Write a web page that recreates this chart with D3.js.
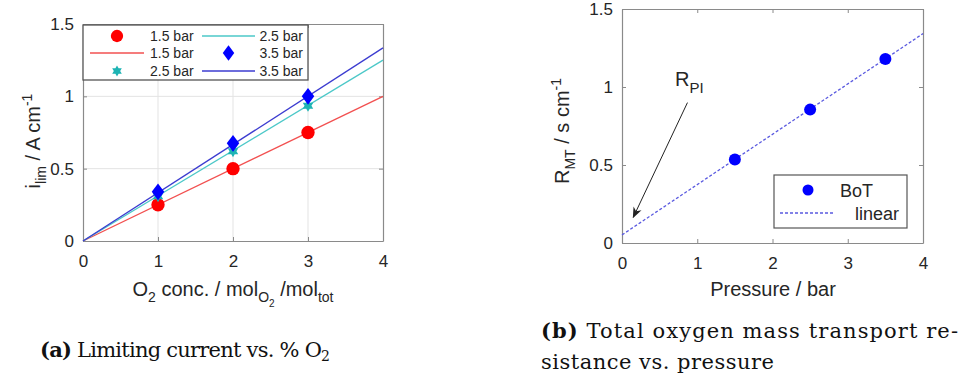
<!DOCTYPE html>
<html>
<head>
<meta charset="utf-8">
<script src="https://cdn.jsdelivr.net/npm/d3@7"></script>
<style>
  body { margin: 0; background: #fff; }
  svg { display: block; }
  .tick text { font-family: "Liberation Sans", Arial, sans-serif; font-size: 17px; fill: #262626; }
  .ttl { font-family: "Liberation Sans", Arial, sans-serif; font-size: 20px; fill: #262626; }
  .cap { font-family: "DejaVu Serif", "Liberation Serif", serif; font-size: 21px; fill: #111; }
</style>
</head>
<body>
<svg id="fig" width="967" height="378"></svg>
<script>
// panel (a): limiting current vs O2 concentration
const o2Conc = [1, 2, 3];
const ilim15 = [0.25, 0.50, 0.75];
const ilim25 = [0.31, 0.62, 0.935];
const ilim35 = [0.34, 0.675, 1.0];
const fitX = [0, 4];
const fit15 = [0, 1.0];
const fit25 = [0, 1.25];
const fit35 = [0, 1.335];
const ticksX = [0, 1, 2, 3, 4];
const ticksY = [0, 0.5, 1, 1.5];

// panel (b): mass transport resistance vs pressure
const pressure = [1.5, 2.5, 3.5];
const rmt = [0.535, 0.855, 1.18];
const linX = [0, 4];
const linY = [0.052, 1.342];
const rpiArrow = [[0.87, 0.90], [0.15, 0.165]]; // data coords, tail -> head

const svg = d3.select('#fig');

const defs = svg.append('defs');
defs.append('marker')
  .attr('id', 'arrowhead')
  .attr('viewBox', '0 0 10 10')
  .attr('refX', 9).attr('refY', 5)
  .attr('markerWidth', 11).attr('markerHeight', 11)
  .attr('markerUnits', 'userSpaceOnUse')
  .attr('orient', 'auto')
  .append('path')
  .attr('d', 'M0,1 L10,5 L0,9 L3,5 Z')
  .attr('fill', '#222');

// six-pointed star, like matlab's 'h' marker
const hexagram = {
  draw(ctx, size) {
    const r = Math.sqrt(size) * 0.72;
    for (let k = 0; k < 2; k++) {
      for (let i = 0; i < 3; i++) {
        const a = -Math.PI / 2 + k * Math.PI / 3 + i * 2 * Math.PI / 3;
        const px = r * Math.cos(a);
        const py = r * Math.sin(a);
        if (i === 0) ctx.moveTo(px, py); else ctx.lineTo(px, py);
      }
      ctx.closePath();
    }
  },
};

function frame(g, x, y, xt, yt, grid) {
  const [x0, x1] = x.range();
  const [y0, y1] = y.range();
  if (grid) {
    g.append('g').selectAll('line').data(xt.slice(1, -1)).join('line')
      .attr('x1', (d) => x(d)).attr('x2', (d) => x(d))
      .attr('y1', y0).attr('y2', y1)
      .attr('stroke', '#e3e3e3').attr('stroke-width', 1);
    g.append('g').selectAll('line').data(yt.slice(1, -1)).join('line')
      .attr('y1', (d) => y(d)).attr('y2', (d) => y(d))
      .attr('x1', x0).attr('x2', x1)
      .attr('stroke', '#e3e3e3').attr('stroke-width', 1);
  }
  const ax = [
    [d3.axisBottom(x).tickValues(xt).tickSizeInner(-4).tickSizeOuter(0).tickPadding(14), `translate(0,${y0})`, true],
    [d3.axisTop(x).tickValues(xt).tickSizeInner(-4).tickSizeOuter(0), `translate(0,${y1})`, false],
    [d3.axisLeft(y).tickValues(yt).tickSizeInner(-4).tickSizeOuter(0).tickPadding(9), `translate(${x0},0)`, true],
    [d3.axisRight(y).tickValues(yt).tickSizeInner(-4).tickSizeOuter(0), `translate(${x1},0)`, false],
  ];
  ax.forEach(([a, t, lab]) => {
    const s = g.append('g').attr('transform', t).call(a);
    s.select('.domain').attr('stroke', '#8a8a8a').attr('stroke-width', 1.2);
    s.selectAll('.tick line').attr('stroke', '#8a8a8a');
    if (!lab) s.selectAll('.tick text').remove();
    s.selectAll('.tick text').text((d) => d3.format('~g')(d));
  });
}

function markTransform(s, cx, cy) {
  return `translate(${cx},${cy})` + (s.sym === d3.symbolDiamond ? ' scale(1.3,1)' : '');
}

// ---------- panel (a)
const gA = svg.append('g');
const xA = d3.scaleLinear().domain([0, 4]).range([83, 383]);
const yA = d3.scaleLinear().domain([0, 1.5]).range([241, 24]);
frame(gA, xA, yA, ticksX, ticksY, true);

const lineA = d3.line().x((d) => xA(d[0])).y((d) => yA(d[1]));
const seriesA = [
  {fit: fit15, pts: ilim15, line: '#f25050', mark: '#ff0000', sym: d3.symbolCircle, size: 140},
  {fit: fit25, pts: ilim25, line: '#4cc8c8', mark: '#1eb4b4', sym: hexagram, size: 70},
  {fit: fit35, pts: ilim35, line: '#3c3cd0', mark: '#0000ff', sym: d3.symbolDiamond, size: 80},
];
seriesA.forEach((s) => {
  gA.append('path')
    .attr('d', lineA(fitX.map((v, i) => [v, s.fit[i]])))
    .attr('fill', 'none').attr('stroke', s.line).attr('stroke-width', 1.3);
});
seriesA.forEach((s) => {
  gA.append('g').selectAll('path').data(o2Conc).join('path')
    .attr('transform', (d, i) => markTransform(s, xA(d), yA(s.pts[i])))
    .attr('d', d3.symbol(s.sym, s.size))
    .attr('fill', s.mark);
});

// legend (a)
const legA = gA.append('g');
legA.append('rect').attr('x', 83).attr('y', 25).attr('width', 225).attr('height', 55)
  .attr('fill', '#fff').attr('stroke', '#555').attr('stroke-width', 1.3);
const legRowsY = [36, 53, 71];
const legItems = [
  {col: 0, row: 0, kind: 'mark', s: seriesA[0], label: '1.5 bar'},
  {col: 0, row: 1, kind: 'line', s: seriesA[0], label: '1.5 bar'},
  {col: 0, row: 2, kind: 'mark', s: seriesA[1], label: '2.5 bar'},
  {col: 1, row: 0, kind: 'line', s: seriesA[1], label: '2.5 bar'},
  {col: 1, row: 1, kind: 'mark', s: seriesA[2], label: '3.5 bar'},
  {col: 1, row: 2, kind: 'line', s: seriesA[2], label: '3.5 bar'},
];
legItems.forEach((it) => {
  const y = legRowsY[it.row];
  const lx0 = it.col === 0 ? 90 : 202;
  const lx1 = it.col === 0 ? 144 : 255;
  if (it.kind === 'line') {
    legA.append('line').attr('x1', lx0).attr('x2', lx1).attr('y1', y).attr('y2', y)
      .attr('stroke', it.s.line).attr('stroke-width', 1.3);
  } else {
    legA.append('path')
      .attr('transform', markTransform(it.s, (lx0 + lx1) / 2, y))
      .attr('d', d3.symbol(it.s.sym, it.s.size * 0.85))
      .attr('fill', it.s.mark);
  }
  legA.append('text').attr('class', 'ttl')
    .attr('x', it.col === 0 ? 150 : 303).attr('y', y + 5)
    .attr('text-anchor', it.col === 0 ? 'start' : 'end')
    .style('font-size', '14px')
    .text(it.label);
});

// axis titles (a)
const xtA = gA.append('text').attr('class', 'ttl').attr('x', 233).attr('y', 296).attr('text-anchor', 'middle');
xtA.append('tspan').text('O');
xtA.append('tspan').attr('dy', 6).style('font-size', '14px').text('2');
xtA.append('tspan').attr('dy', -6).text(' conc. / mol');
xtA.append('tspan').attr('dy', 6).style('font-size', '14px').text('O');
xtA.append('tspan').attr('dy', 5).style('font-size', '10px').text('2');
xtA.append('tspan').attr('dy', -11).text(' /mol');
xtA.append('tspan').attr('dy', 6).style('font-size', '14px').text('tot');

const ytA = gA.append('text').attr('class', 'ttl')
  .attr('transform', `translate(40,141) rotate(-90)`).attr('text-anchor', 'middle');
ytA.append('tspan').text('i');
ytA.append('tspan').attr('dy', 6).style('font-size', '14px').text('lim');
ytA.append('tspan').attr('dy', -6).text(' / A cm');
ytA.append('tspan').attr('dy', -8).style('font-size', '14px').text('-1');

// ---------- panel (b)
const gB = svg.append('g');
const xB = d3.scaleLinear().domain([0, 4]).range([622, 923]);
const yB = d3.scaleLinear().domain([0, 1.5]).range([243, 9]);
frame(gB, xB, yB, ticksX, ticksY, false);

const lineB = d3.line().x((d) => xB(d[0])).y((d) => yB(d[1]));
gB.append('path')
  .attr('d', lineB(linX.map((v, i) => [v, linY[i]])))
  .attr('fill', 'none').attr('stroke', '#5a5ae0').attr('stroke-width', 1.3)
  .attr('stroke-dasharray', '3,2');
gB.append('g').selectAll('circle').data(pressure).join('circle')
  .attr('cx', (d) => xB(d)).attr('cy', (d, i) => yB(rmt[i])).attr('r', 6)
  .attr('fill', '#0000ff');

gB.append('path')
  .attr('d', lineB(rpiArrow))
  .attr('stroke', '#222').attr('stroke-width', 1).attr('fill', 'none')
  .attr('marker-end', 'url(#arrowhead)');
const rpi = gB.append('text').attr('class', 'ttl').attr('x', 675).attr('y', 86);
rpi.append('tspan').text('R');
rpi.append('tspan').attr('dy', 7).style('font-size', '15px').text('PI');

// legend (b)
const legB = gB.append('g');
legB.append('rect').attr('x', 774).attr('y', 175).attr('width', 133).attr('height', 53)
  .attr('fill', '#fff').attr('stroke', '#555').attr('stroke-width', 1.2);
legB.append('circle').attr('cx', 808).attr('cy', 190).attr('r', 5.5).attr('fill', '#0000ff');
legB.append('text').attr('class', 'ttl').attr('x', 840).attr('y', 197).style('font-size', '18px').text('BoT');
legB.append('line').attr('x1', 780).attr('x2', 835).attr('y1', 213).attr('y2', 213)
  .attr('stroke', '#5a5ae0').attr('stroke-width', 1.3).attr('stroke-dasharray', '3,2');
legB.append('text').attr('class', 'ttl').attr('x', 855).attr('y', 220).style('font-size', '18px').text('linear');

gB.append('text').attr('class', 'ttl').attr('x', 773).attr('y', 296).attr('text-anchor', 'middle')
  .text('Pressure / bar');
const ytB = gB.append('text').attr('class', 'ttl')
  .attr('transform', `translate(569,131) rotate(-90)`).attr('text-anchor', 'middle');
ytB.append('tspan').text('R');
ytB.append('tspan').attr('dy', 6).style('font-size', '14px').text('MT');
ytB.append('tspan').attr('dy', -6).text(' / s cm');
ytB.append('tspan').attr('dy', -8).style('font-size', '14px').text('-1');

// ---------- captions
const capA = svg.append('text').attr('class', 'cap').attr('x', 40).attr('y', 357)
  .attr('textLength', 290);
capA.append('tspan').style('font-weight', 'bold').text('(a)');
capA.append('tspan').text(' Limiting current vs. % O');
capA.append('tspan').attr('dy', 4).style('font-size', '14px').text('2');

const capB = svg.append('text').attr('class', 'cap').attr('x', 541).attr('y', 338)
  .attr('textLength', 417);
capB.append('tspan').style('font-weight', 'bold').text('(b)');
capB.append('tspan').text(' Total oxygen mass transport re-');
svg.append('text').attr('class', 'cap').attr('x', 541).attr('y', 369)
  .attr('textLength', 233).text('sistance vs. pressure');
</script>
</body>
</html>
